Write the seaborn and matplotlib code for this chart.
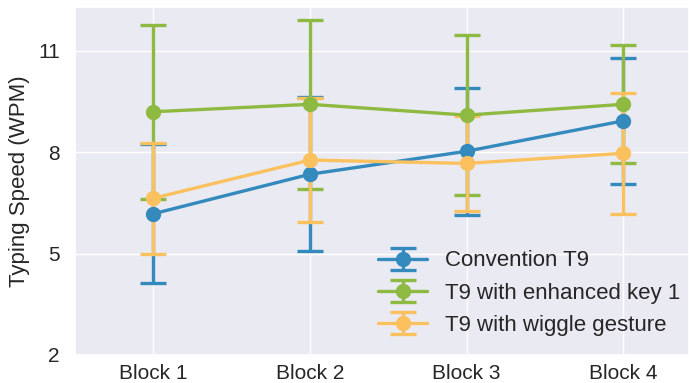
import matplotlib
matplotlib.use("Agg")
import matplotlib.pyplot as plt
import seaborn as sns
import numpy as np

blocks = ["Block 1", "Block 2", "Block 3", "Block 4"]
series_names = ["Convention T9", "T9 with enhanced key 1", "T9 with wiggle gesture"]
conv_mean = [6.18, 7.35, 8.03, 8.93]
conv_err = [2.06, 2.28, 1.88, 1.86]
enh_mean = [9.2, 9.42, 9.1, 9.42]
enh_err = [2.58, 2.5, 2.37, 1.75]
wig_mean = [6.64, 7.77, 7.67, 7.97]
wig_err = [1.64, 1.84, 1.40, 1.79]
y_ticks = [2, 5, 8, 11]

colors = ["#348ABD", "#8EBA42", "#FBC15E"]

sns.set_theme(style="darkgrid")
plt.rcParams["font.family"] = ["Liberation Sans", "DejaVu Sans"]

fig = plt.figure(figsize=(6.89, 3.83), dpi=100)
ax = fig.add_axes([75 / 689, 1 - 355 / 383, 1 - 75 / 689, (355 - 7) / 383])

x = np.arange(len(blocks))
for name, m, e, c in zip(series_names,
                         [conv_mean, enh_mean, wig_mean],
                         [conv_err, enh_err, wig_err], colors):
    ax.errorbar(x, m, yerr=e, color=c, marker="o", markersize=10, lw=2.4,
                elinewidth=2.4, capsize=9.5, capthick=2.4, label=name)

ax.set_xticks(x)
ax.set_xticklabels(blocks, fontsize=15)
ax.set_yticks(y_ticks)
ax.set_yticklabels([str(t) for t in y_ticks], fontsize=15)
ax.set_xlim(-0.5, 3.42)
ax.set_ylim(2, 12.3)
ax.set_ylabel("Typing Speed (WPM)", fontsize=16, labelpad=6)
ax.tick_params(axis="x", pad=0.5)
ax.tick_params(axis="y", pad=5)
ax.legend(loc="lower right", fontsize=16, frameon=False, handlelength=2.2,
          labelspacing=0.5, borderaxespad=0, bbox_to_anchor=(1.0, 0.03))

fig.savefig("out.png", dpi=100)
